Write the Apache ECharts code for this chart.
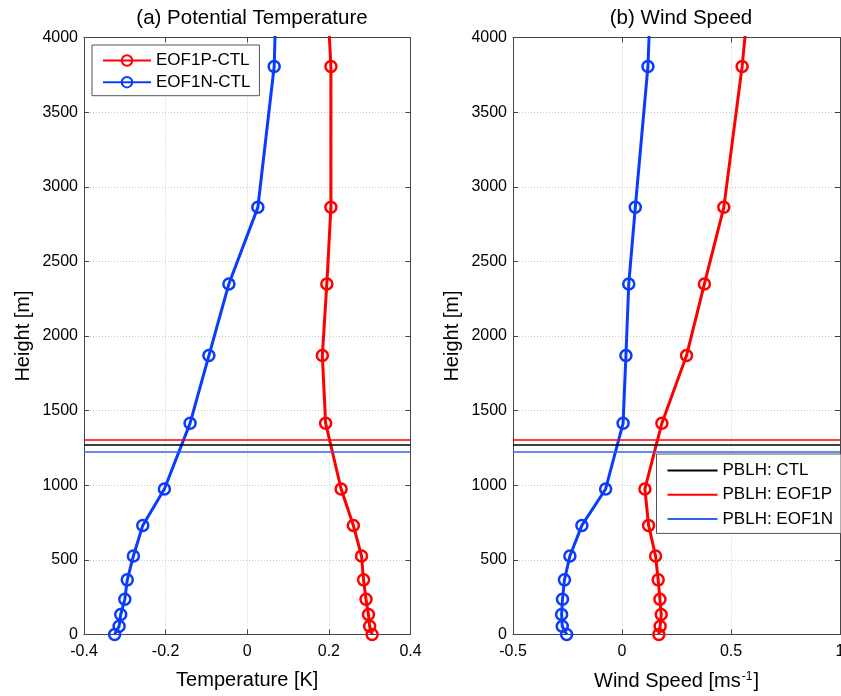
<!DOCTYPE html>
<html><head><meta charset="utf-8">
<script src="https://cdn.jsdelivr.net/npm/echarts@6/dist/echarts.min.js"></script>
<style>html,body{margin:0;padding:0;background:#fff}#c{width:841px;height:696px}</style>
</head><body><div id="c"></div><script>
// Model levels (m); the last level lies above the 4000 m plot top
const heights = [0, 55, 134, 236, 366, 526, 731, 975, 1416, 1869, 2349, 2862, 3806, 4900];
// Potential temperature differences (K)
const tempP = [0.306, 0.300, 0.297, 0.291, 0.285, 0.280, 0.260, 0.230, 0.192, 0.184, 0.195, 0.205, 0.205, 0.184];
const tempN = [-0.325, -0.314, -0.310, -0.300, -0.294, -0.279, -0.256, -0.203, -0.140, -0.094, -0.045, 0.026, 0.066, 0.077];
// Wind speed differences (m/s)
const windP = [0.169, 0.175, 0.180, 0.174, 0.166, 0.154, 0.122, 0.105, 0.183, 0.296, 0.378, 0.467, 0.551, 0.624];
const windN = [-0.254, -0.274, -0.277, -0.273, -0.264, -0.239, -0.184, -0.075, 0.005, 0.018, 0.031, 0.061, 0.119, 0.147];
// PBLH (m)
const pblhNames = ['PBLH: CTL', 'PBLH: EOF1P', 'PBLH: EOF1N'];
const pblhValues = [1272, 1306, 1227];
const pblhColors = ['#000000', '#ff0000', '#2f62f0'];
const seriesNames = ['EOF1P-CTL', 'EOF1N-CTL'];
const titles = ['(a) Potential Temperature', '(b) Wind Speed'];

const FONT = 'Liberation Sans, Arial, Helvetica, sans-serif';
const RED = '#ff0000', BLUE = '#0a3cff';
const AX = '#444';

const grids = [
  {left: 84, top: 37.5, width: 326.5, height: 597, containLabel: false, outerBoundsMode: 'none'},
  {left: 513, top: 37.5, width: 327, height: 597, containLabel: false, outerBoundsMode: 'none'}
];
const xr = [{min: -0.4, max: 0.4, interval: 0.2}, {min: -0.5, max: 1, interval: 0.5}];

const axLine = {show: true, onZero: false, lineStyle: {color: AX, width: 1}};
const axTick = {show: true, inside: true, length: 5, lineStyle: {color: AX}};
const xAxes = [], yAxes = [];
grids.forEach((g, i) => {
  const r = xr[i];
  xAxes.push({
    type: 'value', gridIndex: i, position: 'bottom', min: r.min, max: r.max, interval: r.interval,
    axisLine: axLine, axisTick: axTick,
    axisLabel: {show: true, margin: 9, fontSize: 16, color: '#000', fontFamily: FONT, formatter: v => String(Math.round(v * 10) / 10)},
    splitLine: {show: true, lineStyle: {color: '#c8c8c8', type: [1, 2], width: 1}},
    name: i === 0 ? 'Temperature [K]' : '{a|Wind Speed [ms}{s|-1}{a|]}',
    nameLocation: 'middle', nameGap: 36,
    nameTextStyle: {fontSize: 20, color: '#000', fontFamily: FONT,
      rich: {a: {fontSize: 20, fontFamily: FONT, color: '#000'}, s: {fontSize: 12, fontFamily: FONT, color: '#000', verticalAlign: 'top', padding: [0, 1, 10, 1]}}}
  });
  xAxes.push({
    type: 'value', gridIndex: i, position: 'top', min: r.min, max: r.max, interval: r.interval,
    axisLine: axLine, axisTick: axTick,
    axisLabel: {show: false}, splitLine: {show: false}
  });
  yAxes.push({
    type: 'value', gridIndex: i, position: 'left', min: 0, max: 4000, interval: 500,
    axisLine: axLine, axisTick: axTick,
    axisLabel: {show: true, margin: 6, fontSize: 16, color: '#000', fontFamily: FONT, formatter: v => String(v)},
    splitLine: {show: true, lineStyle: {color: '#c8c8c8', type: [1, 2], width: 1}},
    name: 'Height [m]', nameLocation: 'middle', nameGap: 51, nameRotate: 90,
    nameTextStyle: {fontSize: 20, color: '#000', fontFamily: FONT}
  });
  yAxes.push({
    type: 'value', gridIndex: i, position: 'right', min: 0, max: 4000, interval: 500,
    axisLine: axLine, axisTick: axTick,
    axisLabel: {show: false}, splitLine: {show: false}
  });
});

const pair = (xs) => xs.map((v, k) => [v, heights[k]]);
const series = [];
[0, 1].forEach(i => {
  pblhNames.forEach((n, k) => {
    series.push({
      name: n, type: 'line', xAxisIndex: 2 * i, yAxisIndex: 2 * i, data: [], symbol: 'none', z: 1,
      color: pblhColors[k], lineStyle: {color: pblhColors[k], width: 1.6},
      markLine: {silent: true, symbol: 'none', animation: false, label: {show: false},
        lineStyle: {color: pblhColors[k], width: 1.6, type: 'solid'},
        data: [{yAxis: pblhValues[k]}]}
    });
  });
  const vals = i === 0 ? [tempP, tempN] : [windP, windN];
  [RED, BLUE].forEach((c, k) => {
    series.push({
      name: seriesNames[k], type: 'line', xAxisIndex: 2 * i, yAxisIndex: 2 * i, clip: true, z: 3,
      data: pair(vals[k]), symbol: 'circle', symbolSize: 11, showAllSymbol: true,
      color: c,
      lineStyle: {color: c, width: 3},
      itemStyle: {color: 'rgba(255,255,255,0)', borderColor: c, borderWidth: 2.5}
    });
  });
});

const chart = echarts.init(document.getElementById('c'), null, {renderer: 'canvas'});
chart.setOption({
  animation: false,
  backgroundColor: '#fff',
  title: [
    {text: titles[0], left: 247, top: 3, textAlign: 'center', textStyle: {fontSize: 20.5, fontWeight: 'normal', color: '#000', fontFamily: FONT}},
    {text: titles[1], left: 676, top: 3, textAlign: 'center', textStyle: {fontSize: 20.5, fontWeight: 'normal', color: '#000', fontFamily: FONT}}
  ],
  grid: grids,
  xAxis: xAxes,
  yAxis: yAxes,
  legend: [
    {data: seriesNames, orient: 'vertical', left: 92, top: 45, itemWidth: 48, itemHeight: 13, itemGap: 4.7,
      padding: [7, 9, 5, 10], backgroundColor: '#fff', borderColor: '#555', borderWidth: 1, selectedMode: false,
      textStyle: {fontSize: 17, color: '#000', fontFamily: FONT, lineHeight: 17}},
    {data: pblhNames.map(n => ({name: n, itemStyle: {color: 'rgba(0,0,0,0)', borderWidth: 0, opacity: 0}})),
      orient: 'vertical', left: 656.5, top: 454, itemWidth: 50, itemHeight: 11, itemGap: 7.2,
      padding: [8, 8, 6, 10], backgroundColor: '#fff', borderColor: '#555', borderWidth: 1, selectedMode: false,
      textStyle: {fontSize: 17, color: '#000', fontFamily: FONT, lineHeight: 17}}
  ],
  series: series
});
</script></body></html>
